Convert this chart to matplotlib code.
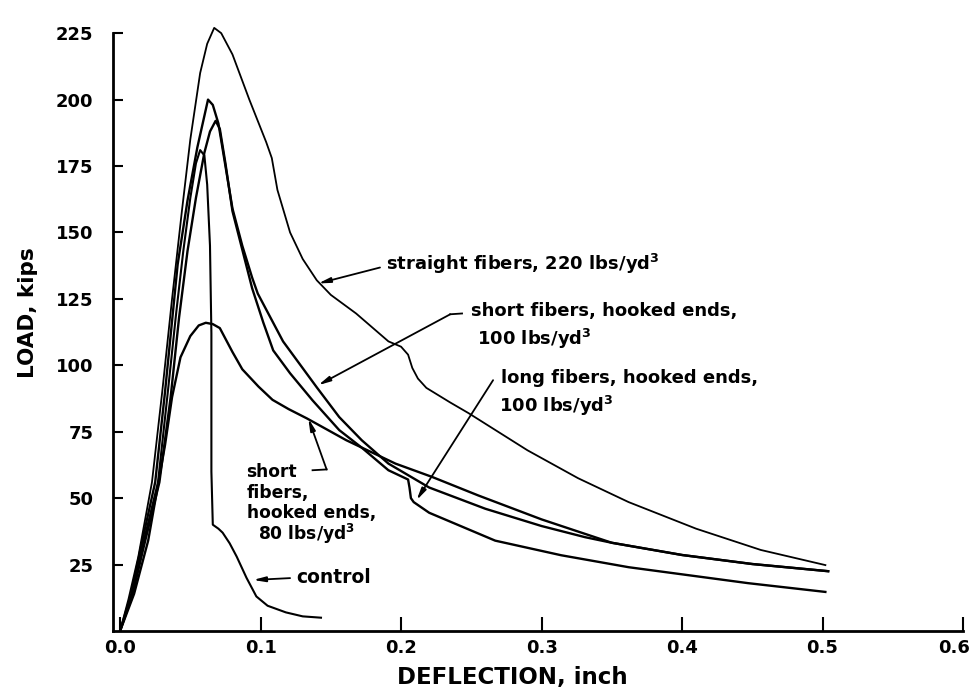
import matplotlib
matplotlib.use("Agg")
import matplotlib.pyplot as plt
from matplotlib.transforms import ScaledTranslation

# Kurvor (deflection i inch, load i kips)
straight_x = [0, 0.006, 0.013, 0.0227, 0.030, 0.037, 0.044, 0.050, 0.057, 0.062, 0.067,
              0.072, 0.080, 0.092, 0.104, 0.108, 0.112, 0.121, 0.130, 0.140, 0.150,
              0.168, 0.191, 0.200, 0.205, 0.208, 0.212, 0.218, 0.235, 0.248, 0.290,
              0.326, 0.362, 0.410, 0.456, 0.502]
straight_y = [0, 12, 28, 56, 90, 125, 158, 185, 210, 221, 227,
              225, 217, 200, 184, 178, 166, 150, 140, 132, 126.5,
              119.5, 109, 107, 104, 99, 95, 91.5, 86, 82, 68,
              57.5, 48.5, 38.5, 30.5, 24.8]

short100_x = [0, 0.008, 0.015, 0.025, 0.032, 0.041, 0.048, 0.055, 0.0626, 0.066, 0.070,
              0.075, 0.080, 0.087, 0.094, 0.098, 0.116, 0.140, 0.156, 0.172, 0.191,
              0.220, 0.260, 0.300, 0.331, 0.350, 0.400, 0.450, 0.504]
short100_y = [0, 14, 32, 56, 90, 138, 162, 182, 200, 198, 191,
              175, 159, 145, 133, 127, 109, 91.7, 80.5, 71.8, 63,
              54, 46, 39.5, 35.3, 33.2, 28.6, 25.2, 22.5]

long_x = [0, 0.009, 0.017, 0.028, 0.036, 0.042, 0.048, 0.054, 0.060, 0.064, 0.068,
          0.071, 0.075, 0.080, 0.087, 0.094, 0.102, 0.109, 0.121, 0.137, 0.156,
          0.172, 0.191, 0.201, 0.205, 0.206, 0.207, 0.209, 0.220, 0.267, 0.314,
          0.362, 0.447, 0.502]
long_y = [0, 14, 32, 56, 88, 118, 143, 163, 180, 188, 192,
          189, 176, 158, 143.5, 129, 116, 105.6, 97, 86.8, 75.6,
          69, 60.5, 58, 57, 54, 50, 48.5, 44.5, 34, 28.5,
          24, 18, 14.7]

short80_x = [0, 0.010, 0.020, 0.032, 0.037, 0.043, 0.050, 0.056, 0.061, 0.066, 0.071,
             0.080, 0.087, 0.0985, 0.1085, 0.120, 0.133, 0.161, 0.196, 0.222, 0.255,
             0.300, 0.350, 0.400, 0.450, 0.504]
short80_y = [0, 14, 34, 70, 88, 103, 111, 115, 116, 115.5, 114,
             105, 98.5, 92, 87, 83.5, 80, 71.8, 63, 58, 51,
             42, 33.2, 28.6, 25.2, 22.5]

control_x = [0, 0.009, 0.016, 0.027, 0.034, 0.040, 0.045, 0.050, 0.054, 0.057, 0.060,
             0.062, 0.064, 0.065, 0.065, 0.066, 0.070, 0.073, 0.078, 0.083, 0.090,
             0.097, 0.105, 0.118, 0.130, 0.143]
control_y = [0, 14, 32, 56, 90, 120, 143, 163, 176, 181, 179,
             168, 145, 112, 60, 40, 38.5, 37, 33, 28, 20,
             13, 9.5, 7, 5.5, 5]

x_ticks = [0.0, 0.1, 0.2, 0.3, 0.4, 0.5, 0.6]
y_ticks = [25, 50, 75, 100, 125, 150, 175, 200, 225]

plt.rcParams["font.family"] = ["DejaVu Sans"]
plt.rcParams["font.weight"] = "bold"
plt.rcParams["mathtext.fontset"] = "dejavusans"
plt.rcParams["mathtext.default"] = "bf"

fig = plt.figure(figsize=(9.72, 7), dpi=100)
ax = fig.add_axes([0.1163, 0.0986, 0.8745, 0.854])

ax.plot(straight_x, straight_y, color="black", lw=1.3, clip_on=False)
ax.plot(short100_x, short100_y, color="black", lw=1.7)
ax.plot(long_x, long_y, color="black", lw=1.7)
ax.plot(short80_x, short80_y, color="black", lw=1.7)
ax.plot(control_x, control_y, color="black", lw=1.5)

ax.set_xlim(-0.005, 0.6)
ax.set_ylim(0, 225)
ax.set_xticks(x_ticks)
ax.set_xticklabels([f"{t:.1f}" for t in x_ticks])
ax.set_yticks(y_ticks)

for s in ["top", "right"]:
    ax.spines[s].set_visible(False)
for s in ["left", "bottom"]:
    ax.spines[s].set_linewidth(2)

ax.tick_params(axis="both", direction="in", width=1.5, labelsize=13)
ax.tick_params(axis="x", length=10, pad=6)
ax.tick_params(axis="y", length=7, pad=14)

# sista x-etiketten lite inåt så att den inte klipps
last = ax.get_xticklabels()[-1]
last.set_transform(last.get_transform() + ScaledTranslation(-9 / 100, 0, fig.dpi_scale_trans))

ax.set_xlabel("DEFLECTION, inch", fontsize=16.5, fontweight="bold")
ax.xaxis.set_label_coords(0.47, -0.058)
ax.set_ylabel("LOAD, kips", fontsize=15.5, fontweight="bold")
ax.yaxis.set_label_coords(-0.088, 0.532)

# Etiketter och pilar
fs = 13
ax.text(0.189, 135.7, "straight fibers, 220 lbs/yd$^3$", fontsize=fs, fontweight="bold")
ax.text(0.2497, 118.4, "short fibers, hooked ends,", fontsize=fs, fontweight="bold")
ax.text(0.254, 107.5, "100 lbs/yd$^3$", fontsize=fs, fontweight="bold")
ax.text(0.271, 93.2, "long fibers, hooked ends,", fontsize=fs, fontweight="bold")
ax.text(0.270, 82.3, "100 lbs/yd$^3$", fontsize=fs, fontweight="bold")
fs2 = 12.3
ax.text(0.090, 57.9, "short", fontsize=fs2, fontweight="bold")
ax.text(0.090, 50.0, "fibers,", fontsize=fs2, fontweight="bold")
ax.text(0.090, 42.5, "hooked ends,", fontsize=fs2, fontweight="bold")
ax.text(0.098, 34.2, "80 lbs/yd$^3$", fontsize=fs2, fontweight="bold")
ax.text(0.1255, 18.0, "control", fontsize=13.5, fontweight="bold")

arrow = dict(arrowstyle="-|>,head_length=0.7,head_width=0.15", lw=1.3,
             color="black", shrinkA=0, shrinkB=0)
ax.annotate("", xy=(0.141, 130.8), xytext=(0.185, 136.8), arrowprops=arrow)
ax.plot([0.2434, 0.2350], [119.5, 119.2], color="black", lw=1.3)
ax.annotate("", xy=(0.141, 92.5), xytext=(0.2350, 119.2), arrowprops=arrow)
ax.annotate("", xy=(0.211, 49.2), xytext=(0.2655, 94.4), arrowprops=arrow)
ax.plot([0.137, 0.147], [60.5, 60.8], color="black", lw=1.3)
ax.annotate("", xy=(0.134, 80.0), xytext=(0.147, 60.8), arrowprops=arrow)
ax.annotate("", xy=(0.0947, 19.2), xytext=(0.121, 19.9), arrowprops=arrow)

fig.savefig("out.png", dpi=100)
